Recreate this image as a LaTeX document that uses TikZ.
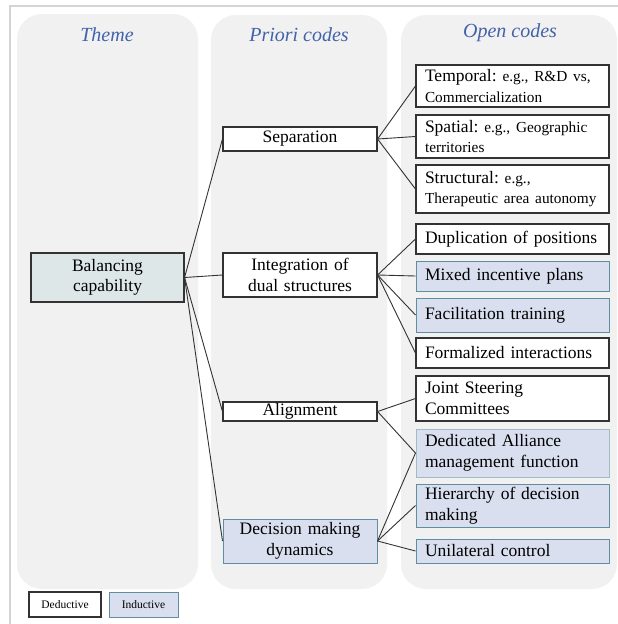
\documentclass[tikz,border=0pt]{standalone}
\usepackage{fontspec}
\setmainfont{Liberation Serif}
\definecolor{panelc}{HTML}{F1F1F1}
\definecolor{framec}{HTML}{D4D4D4}
\definecolor{hdrc}{HTML}{4262AA}
\definecolor{indfill}{HTML}{D9DFEF}
\definecolor{indline}{HTML}{5E8EA0}
\definecolor{balfill}{HTML}{DDE7E7}
\definecolor{edgec}{HTML}{333333}
\newcommand\bigf{\fontsize{17.5}{20.5}\selectfont}
\newcommand\smf{\fontsize{15.3}{19}\selectfont}
\tikzset{
  panel/.style={fill=panelc, draw=none, rounded corners=25pt},
  hdr/.style={font=\fontsize{20}{24}\selectfont\itshape, text=hdrc},
  ded/.style={draw=edgec, line width=1.1pt, fill=white, inner xsep=9pt, inner ysep=0pt, font=\bigf},
  ind/.style={draw=indline, line width=1pt, fill=indfill, inner xsep=9pt, inner ysep=0pt, font=\bigf},
  pri/.style={text width=146pt, align=center, minimum width=154pt, inner xsep=4pt},
  opn/.style={text width=175pt, align=left, minimum width=193pt},
  conn/.style={draw=edgec, line width=0.9pt},
  leg/.style={inner sep=0pt, font=\fontsize{11.5}{13}\selectfont, minimum height=25pt}
}
\begin{document}
\begin{tikzpicture}[x=1pt,y=-1pt]
\useasboundingbox (0,0) rectangle (618,624);
\fill[white] (0,0) rectangle (618,624);
\draw[framec, line width=2pt] (10,624) -- (10,6) -- (618,6);
% panels
\fill[panel] (17,14) rectangle (198,589);
\fill[panel] (211,15) rectangle (387,589);
\fill[panel] (401,15) rectangle (617,589);
\node[hdr] (h1) at (107,35) {Theme};
\node[hdr] (h2) at (299,35) {Priori codes};
\node[hdr] (h3) at (510,33) {Open codes};
% theme
\node[ded, fill=balfill, text width=135pt, align=center, minimum width=153pt, minimum height=49pt] (bal) at (107.5,277.5) {Balancing\\capability};
% priori codes
\node[ded, pri, minimum height=24pt] (sep) at (300,139) {Separation};
\node[ded, pri, minimum height=44pt] (int) at (300,275) {Integration of\\dual structures};
\node[ded, pri, minimum height=19pt] (ali) at (300,411.5) {Alignment};
\node[ind, pri, minimum height=44pt] (dec) at (300,541) {Decision making\\dynamics};
% open codes
\node[ded, opn, minimum height=42pt] (tem) at (512.5,86) {Temporal:{\smf\ e.g., R\&D vs,}\\{\smf Commercialization}};
\node[ded, opn, minimum height=43pt] (spa) at (512.5,136.5) {Spatial:{\smf\ e.g., Geographic}\\{\smf territories}};
\node[ded, opn, minimum height=48pt] (str) at (512.5,189) {Structural:{\smf\ e.g.,}\\{\smf Therapeutic area autonomy}};
\node[ded, opn, minimum height=30pt] (dup) at (512.5,239) {Duplication of positions};
\node[ind, opn, minimum height=30pt] (mix) at (512.5,276) {Mixed incentive plans};
\node[ind, opn, minimum height=34pt] (fac) at (512.5,315) {Facilitation training};
\node[ded, opn, minimum height=30pt] (for) at (512.5,353) {Formalized interactions};
\node[ded, opn, minimum height=45pt] (joi) at (512.5,398.5) {Joint Steering\\Committees};
\node[ind, opn, draw=indline!60, minimum height=48pt] (dal) at (512.5,453) {Dedicated Alliance\\management function};
\node[ind, opn, minimum height=43pt] (hie) at (512.5,505.5) {Hierarchy of decision\\making};
\node[ind, opn, minimum height=24pt] (uni) at (512.5,551) {Unilateral control};
% connectors
\foreach \t in {sep,int,ali,dec} \draw[conn] (bal.east) -- (\t.west);
\foreach \t in {tem,spa,str} \draw[conn] (sep.east) -- (\t.west);
\foreach \t in {dup,mix,fac,for} \draw[conn] (int.east) -- (\t.west);
\foreach \t in {joi,dal} \draw[conn] (ali.east) -- (\t.west);
\foreach \t in {dal,hie,uni} \draw[conn] (dec.east) -- (\t.west);
% legend
\node[ded, leg, minimum width=72pt] (ldeg) at (65,604.5) {Deductive};
\node[ind, leg, minimum width=69pt] (lind) at (143.5,604.5) {Inductive};
\end{tikzpicture}
\end{document}
